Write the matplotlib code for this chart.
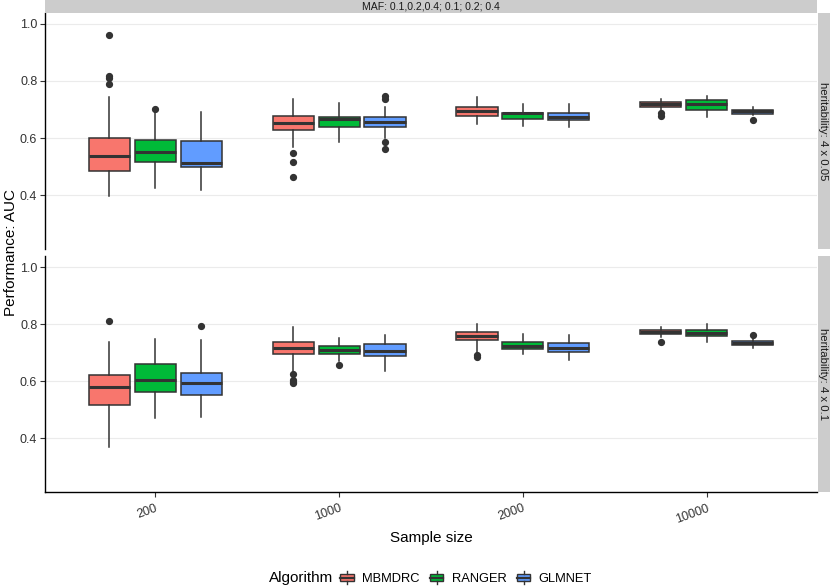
import matplotlib
matplotlib.use('Agg')
import matplotlib.pyplot as plt
from matplotlib.patches import Rectangle
from matplotlib.legend_handler import HandlerBase
from matplotlib.lines import Line2D

plt.rcParams['font.family'] = ['Liberation Sans', 'DejaVu Sans']

# ---------------- data ----------------
sample_sizes = ['200', '1000', '2000', '10000']
algorithms = ['MBMDRC', 'RANGER', 'GLMNET']
colors = ['#F8766D', '#00BA38', '#619CFF']
row_labels = ['heritability: 4 x 0.05', 'heritability: 4 x 0.1']
col_label = 'MAF: 0.1,0.2,0.4; 0.1; 0.2; 0.4'
y_ticks = [0.4, 0.6, 0.8, 1.0]

# heritability 4 x 0.05  (rows: MBMDRC, RANGER, GLMNET; cols: sample sizes)
h005_whislo = [[0.397, 0.570, 0.650, 0.700],
               [0.425, 0.587, 0.644, 0.675],
               [0.418, 0.601, 0.640, 0.681]]
h005_q1 = [[0.486, 0.628, 0.678, 0.710],
           [0.517, 0.638, 0.666, 0.697],
           [0.498, 0.638, 0.663, 0.685]]
h005_med = [[0.539, 0.653, 0.694, 0.720],
            [0.552, 0.666, 0.687, 0.721],
            [0.512, 0.658, 0.675, 0.694]]
h005_q3 = [[0.600, 0.678, 0.708, 0.727],
           [0.592, 0.673, 0.689, 0.734],
           [0.589, 0.673, 0.689, 0.700]]
h005_whishi = [[0.744, 0.737, 0.743, 0.737],
               [0.695, 0.722, 0.720, 0.749],
               [0.690, 0.708, 0.720, 0.710]]
h005_fliers = [[[0.959, 0.816, 0.810, 0.790], [0.547, 0.516, 0.465], [], [0.688, 0.679]],
               [[0.703], [], [], []],
               [[], [0.746, 0.738, 0.585, 0.563], [], [0.664]]]

# heritability 4 x 0.1
h01_whislo = [[0.371, 0.635, 0.699, 0.755],
              [0.471, 0.670, 0.695, 0.739],
              [0.474, 0.637, 0.674, 0.718]]
h01_q1 = [[0.517, 0.697, 0.744, 0.764],
          [0.563, 0.696, 0.713, 0.759],
          [0.551, 0.689, 0.704, 0.728]]
h01_med = [[0.579, 0.718, 0.759, 0.772],
           [0.604, 0.710, 0.725, 0.770],
           [0.594, 0.706, 0.718, 0.734]]
h01_q3 = [[0.623, 0.738, 0.773, 0.780],
          [0.661, 0.724, 0.736, 0.781],
          [0.628, 0.729, 0.734, 0.741]]
h01_whishi = [[0.736, 0.790, 0.801, 0.790],
              [0.748, 0.753, 0.766, 0.799],
              [0.743, 0.762, 0.762, 0.751]]
h01_fliers = [[[0.810], [0.627, 0.606, 0.598, 0.594], [0.693, 0.685], [0.738]],
              [[], [0.656], [], []],
              [[0.793], [], [], [0.762]]]

panels = [
    (h005_whislo, h005_q1, h005_med, h005_q3, h005_whishi, h005_fliers),
    (h01_whislo, h01_q1, h01_med, h01_q3, h01_whishi, h01_fliers),
]

# ---------------- figure ----------------
W, H = 830, 587
fig = plt.figure(figsize=(W / 100, H / 100), dpi=100)

def fx(px):
    return px / W

def fy(py):
    return 1 - py / H

left, right = 45, 817
panel_y = [(13, 249), (256.3, 492)]
edge = '#333333'
offsets = [-0.25, 0.0, 0.25]
box_w = 0.224

axes = []
for pi, (ptop, pbot) in enumerate(panel_y):
    ax = fig.add_axes([fx(left), fy(pbot), fx(right - left), (pbot - ptop) / H])
    axes.append(ax)
    wl, q1, md, q3, wh, fl = panels[pi]
    for ai, alg in enumerate(algorithms):
        stats = []
        for si in range(len(sample_sizes)):
            stats.append(dict(whislo=wl[ai][si], q1=q1[ai][si], med=md[ai][si],
                              q3=q3[ai][si], whishi=wh[ai][si], fliers=fl[ai][si]))
        positions = [si + 1 + offsets[ai] for si in range(len(sample_sizes))]
        ax.bxp(stats, positions=positions, widths=box_w, patch_artist=True,
               showcaps=False, manage_ticks=False,
               boxprops=dict(facecolor=colors[ai], edgecolor=edge, linewidth=1.1),
               medianprops=dict(color=edge, linewidth=2.2, solid_capstyle='butt'),
               whiskerprops=dict(color=edge, linewidth=1.1),
               flierprops=dict(marker='o', markerfacecolor=edge, markeredgecolor=edge,
                               markersize=4.2, linestyle='none'),
               zorder=3)
    ax.set_xlim(0.4, 4.6)
    ax.set_ylim(0.2125, 1.0375)
    ax.set_yticks(y_ticks)
    ax.set_yticklabels([f'{t:.1f}' for t in y_ticks], fontsize=9, color='#333333')
    ax.yaxis.grid(True, color='#EBEBEB', linewidth=0.8, zorder=0)
    ax.set_axisbelow(True)
    for s in ['top', 'right']:
        ax.spines[s].set_visible(False)
    ax.spines['left'].set_color('black')
    ax.spines['left'].set_linewidth(1.0)
    ax.tick_params(axis='y', length=3.5, width=0.8, color='#333333', pad=2)
    ax.set_xticks(range(1, len(sample_sizes) + 1))
    if pi == 0:
        ax.spines['bottom'].set_visible(False)
        ax.tick_params(axis='x', length=0, labelbottom=False)
    else:
        ax.spines['bottom'].set_color('black')
        ax.spines['bottom'].set_linewidth(1.0)
        ax.set_xticklabels(sample_sizes, fontsize=9, color='#333333',
                           rotation=20, ha='right', va='top', rotation_mode='anchor')
        ax.tick_params(axis='x', length=3.5, width=0.8, color='#333333', pad=4)

    # right strip
    strip = Rectangle((fx(818), fy(pbot)), fx(20), (pbot - ptop) / H,
                      transform=fig.transFigure, facecolor='#CCCCCC', edgecolor='none')
    fig.patches.append(strip)
    fig.text(fx(822.5), fy((ptop + pbot) / 2), row_labels[pi], rotation=-90,
             ha='center', va='center', fontsize=8.2, color='#1A1A1A')

# top strip
fig.patches.append(Rectangle((fx(left), fy(13)), fx(right - left), 13 / H,
                             transform=fig.transFigure, facecolor='#CCCCCC',
                             edgecolor='none'))
fig.text(fx((left + right) / 2), fy(6.8), col_label, ha='center', va='center',
         fontsize=7.6, color='#1A1A1A')

# axis titles
fig.text(fx(431), fy(538), 'Sample size', ha='center', va='center', fontsize=11)
fig.text(fx(11), fy(252), 'Performance: AUC', ha='center', va='center',
         rotation=90, fontsize=11)


# legend
class BoxHandler(HandlerBase):
    def create_artists(self, legend, orig_handle, xdescent, ydescent, width,
                       height, fontsize, trans):
        x0, y0 = -xdescent, -ydescent
        fc = orig_handle.get_facecolor()
        cx = x0 + width / 2
        rect = Rectangle((x0, y0 + 0.22 * height), width, 0.56 * height,
                         facecolor=fc, edgecolor=edge, linewidth=1.0, transform=trans)
        med = Line2D([x0, x0 + width], [y0 + height / 2] * 2, color=edge,
                     linewidth=1.6, transform=trans)
        wt = Line2D([cx, cx], [y0 + 0.78 * height, y0 + height], color=edge,
                    linewidth=1.0, transform=trans)
        wb = Line2D([cx, cx], [y0, y0 + 0.22 * height], color=edge,
                    linewidth=1.0, transform=trans)
        return [rect, med, wt, wb]


handles = [Rectangle((0, 0), 1, 1, facecolor=c) for c in colors]
fig.legend(handles, algorithms, loc='center left',
           bbox_to_anchor=(fx(340), fy(578)), ncol=3, frameon=False,
           handler_map={Rectangle: BoxHandler()}, fontsize=9.3,
           handlelength=1.05, handleheight=1.2, handletextpad=0.65,
           columnspacing=0.8, borderpad=0, borderaxespad=0)
fig.text(fx(269), fy(578), 'Algorithm', ha='left', va='center', fontsize=11)

fig.savefig('out.png', dpi=100)
